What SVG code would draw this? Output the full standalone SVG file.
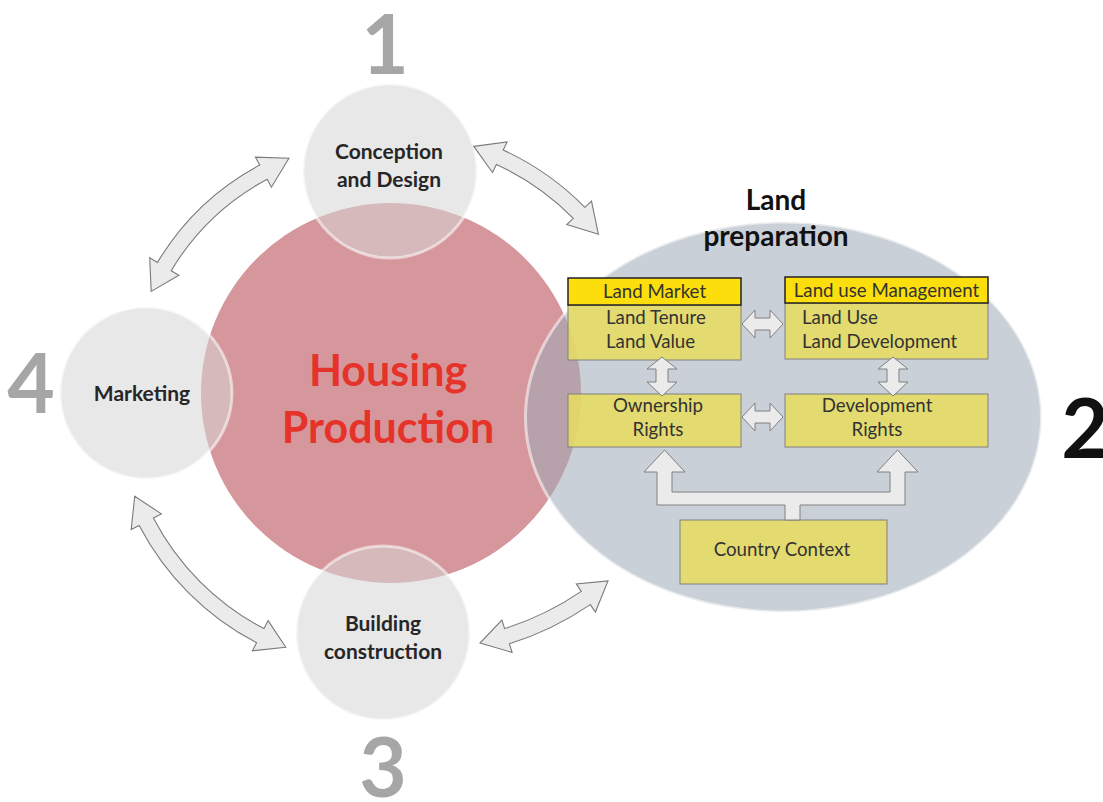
<svg xmlns="http://www.w3.org/2000/svg" width="1103" height="802" viewBox="0 0 1103 802">
<style>
.small{fill:#d5d5d5;fill-opacity:0.55;stroke:#ffffff;stroke-opacity:0.55;stroke-width:3}
.lbl{font-family:Lato,"Liberation Sans",sans-serif;font-weight:bold;fill:#262626;text-anchor:middle}
.num{font-family:Lato,"Liberation Sans",sans-serif;font-weight:bold;font-size:82px;fill:#a6a6a6;text-anchor:middle}
.body{fill:rgb(230,219,98);fill-opacity:0.88;stroke:#808080;stroke-width:1}
.head{fill:#fbde0c;stroke:#222;stroke-width:1.5}
.bt{font-family:Lato,"Liberation Sans",sans-serif;font-size:18.7px;fill:#333}
.arr{fill:#ebebeb;stroke:#808080;stroke-width:1;stroke-linejoin:miter}
.carr{fill:#ebebeb;stroke:#7a7a7a;stroke-width:1.1}
</style>

<g id="housing-production">
<circle cx="391" cy="393" r="190" fill="#d5979c"/>
</g>

<g id="conception">
<circle class="small" cx="390" cy="171" r="87"/>
<text class="lbl" x="389" y="159" font-size="21">Conception</text>
<text class="lbl" x="389" y="187" font-size="21">and Design</text>
</g>

<g id="marketing">
<circle class="small" cx="146" cy="393" r="86"/>
<text class="lbl" x="142" y="401" font-size="21">Marketing</text>
</g>

<g id="building">
<circle class="small" cx="383" cy="633" r="87"/>
<text class="lbl" x="383" y="631" font-size="21">Building</text>
<text class="lbl" x="383" y="659" font-size="21">construction</text>
</g>

<g id="land-preparation">
<ellipse cx="783.5" cy="417" rx="258" ry="195" fill="rgb(159,170,182)" fill-opacity="0.55" stroke="#ffffff" stroke-opacity="0.55" stroke-width="3"/>
<text class="lbl" x="776" y="210" font-size="28" style="fill:#111">Land</text>
<text class="lbl" x="776" y="246" font-size="28" style="fill:#111">preparation</text>
</g>

<g id="housing-label">
<text class="lbl" x="388" y="386" font-size="43" style="fill:#e5332a">Housing</text>
<text class="lbl" x="388" y="443" font-size="43" style="fill:#e5332a">Production</text>
</g>

<g id="land-market">
<rect class="body" x="568" y="305" width="173" height="55"/>
<rect class="head" x="568" y="278" width="173" height="27"/>
<text class="bt" x="654.5" y="298" text-anchor="middle">Land Market</text>
<text class="bt" x="606" y="324">Land Tenure</text>
<text class="bt" x="606" y="348">Land Value</text>
</g>

<g id="land-use-management">
<rect class="body" x="785" y="303" width="203" height="56"/>
<rect class="head" x="785" y="277" width="203" height="26"/>
<text class="bt" x="886.5" y="297" text-anchor="middle">Land use Management</text>
<text class="bt" x="802" y="324">Land Use</text>
<text class="bt" x="802" y="348">Land Development</text>
</g>

<g id="ownership-rights">
<rect class="body" x="568" y="394" width="173" height="53"/>
<text class="bt" x="658" y="412" text-anchor="middle">Ownership</text>
<text class="bt" x="658" y="436" text-anchor="middle">Rights</text>
</g>

<g id="development-rights">
<rect class="body" x="785" y="394" width="203" height="53"/>
<text class="bt" x="877" y="412" text-anchor="middle">Development</text>
<text class="bt" x="877" y="436" text-anchor="middle">Rights</text>
</g>

<g id="country-context">
<rect class="body" x="680" y="520" width="207" height="64"/>
<text class="bt" x="782" y="556" text-anchor="middle" font-size="22">Country Context</text>
</g>

<g id="connectors">
<polygon class="arr" points="742,324 755,310 755,318 770,318 770,310 783,324 770,338 770,330 755,330 755,338"/>
<polygon class="arr" points="742,417 755,403 755,411 770,411 770,403 783,417 770,431 770,423 755,423 755,431"/>
<polygon class="arr" points="662,357 677,369 668,369 668,382 677,382 662,396 647,382 656,382 656,369 647,369"/>
<polygon class="arr" points="893,357 908,369 899,369 899,382 908,382 893,396 878,382 887,382 887,369 878,369"/>
<polygon class="arr" points="785,520 785,505 657,505 657,472 644,472 664.5,450 685,472 672,472 672,492 890,492 890,472 877,472 897.5,450 918,472 905,472 905,505 800,505 800,520"/>

<path class="carr" d="M151.2,291.4 L149.7,257.8 L157.5,262.4 A264,264 0 0 1 259.7,165.1 L255.4,157.2 L288.9,158.3 L271.4,187.2 L267.2,179.2 A248,248 0 0 0 171.2,270.7 L178.9,275.3 Z"/>
<path class="carr" d="M473.8,146.4 L507.1,141.9 L503.2,150 A277,277 0 0 1 584.9,207.3 L591.5,201.1 L598.4,234.2 L566.8,224.5 L573.3,218.3 A261,261 0 0 0 496.4,164.4 L492.5,172.5 Z"/>
<path class="carr" d="M285.8,647.3 L252.4,650.8 L256.6,642.8 A276,276 0 0 1 139.2,525.4 L131.2,529.6 L134.7,496.2 L161.4,513.9 L153.4,518 A260,260 0 0 0 264,628.6 L268.1,620.6 Z"/>
<path class="carr" d="M480,643 L512.1,652.4 L509.4,643.8 A308,308 0 0 0 590.3,604.6 L595.4,612 L608,581 L576.3,583.9 L581.3,591.4 A292,292 0 0 1 504.6,628.6 L501.9,620 Z"/>
</g>

<g id="numbers">
<text class="num" x="385" y="74">1</text>
<text class="num" x="31" y="413">4</text>
<text class="num" x="383" y="797">3</text>
<text class="num" x="1085" y="458" style="fill:#111">2</text>
</g>
</svg>
